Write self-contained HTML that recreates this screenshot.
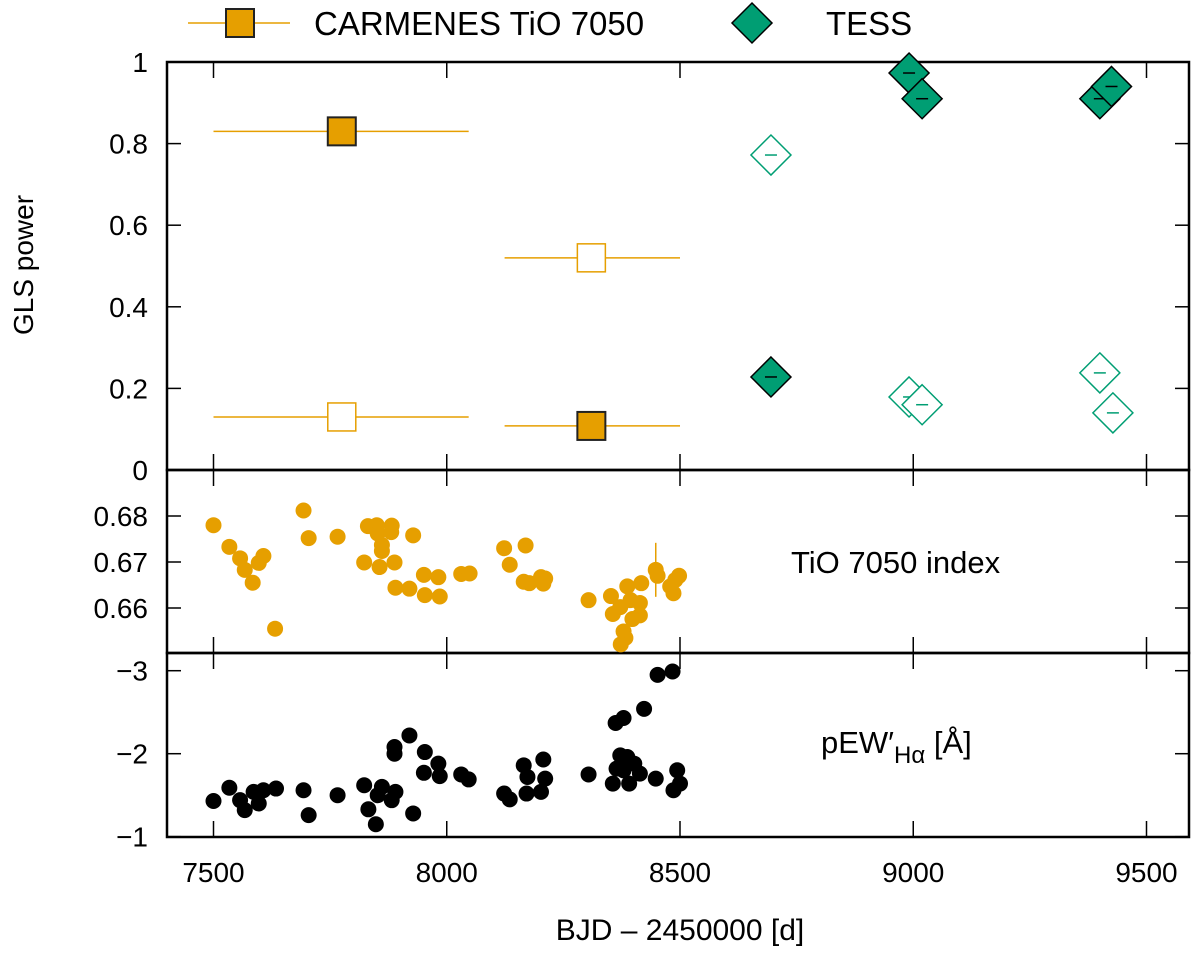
<!DOCTYPE html>
<html><head><meta charset="utf-8"><style>
body{margin:0;background:#fff}
svg text{font-family:"Liberation Sans",sans-serif;fill:#000}
</style></head><body>
<svg id="chart" width="1200" height="954" viewBox="0 0 1200 954" xmlns="http://www.w3.org/2000/svg">
<g id="g"></g>
</svg>
<script>
// Top panel (GLS power) data
const carmFilledX=[7775,8310];
const carmFilledY=[0.83,0.108];
const carmFilledXerrLo=[7500,8124];
const carmFilledXerrHi=[8047,8500];
const carmOpenX=[7775,8310];
const carmOpenY=[0.13,0.52];
const carmOpenXerrLo=[7500,8124];
const carmOpenXerrHi=[8047,8500];
const tessFilledX=[8695,8991,9019,9400,9425];
const tessFilledY=[0.228,0.973,0.91,0.91,0.94];
const tessOpenX=[8695,8991,9019,9400,9428];
const tessOpenY=[0.772,0.179,0.16,0.238,0.14];
// Middle panel TiO index
const tioX=[7500,7534,7557,7567,7584,7597,7607,7632,7693,7704,7766,7831,7850,7882,7852,7881,7861,7861,7823,7856,7888,7928,7890,7920,7951,7982,7953,7985,8031,8049,8123,8169,8135,8165,8177,8202,8211,8207,8304,8352,8356,8387,8372,8394,8414,8414,8417,8398,8379,8383,8373,8448,8452,8498,8490,8479,8486];
const tioY=[0.678,0.6733,0.6708,0.6683,0.6655,0.6698,0.6713,0.6555,0.6812,0.6752,0.6755,0.6778,0.678,0.6779,0.6762,0.6765,0.6737,0.6724,0.6699,0.6689,0.6699,0.6758,0.6644,0.6642,0.6672,0.6667,0.6628,0.6625,0.6674,0.6675,0.673,0.6736,0.6694,0.6657,0.6654,0.6667,0.6664,0.6653,0.6617,0.6626,0.6587,0.6647,0.6602,0.6617,0.6611,0.6584,0.6654,0.6576,0.6549,0.6535,0.6521,0.6683,0.667,0.667,0.6661,0.6647,0.6632];
// Bottom panel pEW Halpha
const haX=[7500,7534,7557,7567,7586,7597,7607,7634,7693,7704,7766,7823,7832,7848,7852,7861,7882,7890,7888,7888,7920,7928,7953,7951,7982,7985,8031,8047,8123,8135,8165,8173,8207,8211,8202,8171,8304,8362,8379,8423,8452,8484,8372,8364,8387,8402,8414,8356,8391,8379,8448,8494,8500,8486];
const haY=[-1.43,-1.59,-1.44,-1.32,-1.54,-1.40,-1.56,-1.58,-1.56,-1.26,-1.50,-1.62,-1.33,-1.15,-1.50,-1.60,-1.44,-1.54,-2.08,-2.00,-2.22,-1.28,-2.02,-1.77,-1.88,-1.73,-1.75,-1.69,-1.52,-1.45,-1.86,-1.72,-1.93,-1.70,-1.54,-1.52,-1.75,-2.37,-2.43,-2.54,-2.95,-2.99,-1.98,-1.82,-1.96,-1.88,-1.76,-1.64,-1.64,-1.80,-1.70,-1.80,-1.64,-1.56];
const xTicks=[7500,8000,8500,9000,9500];
const topTicks=[0,0.2,0.4,0.6,0.8,1];
const topTickLabels=["0","0.2","0.4","0.6","0.8","1"];
const midTicks=[0.66,0.67,0.68];
const midTickLabels=["0.66","0.67","0.68"];
const botTicks=[-3,-2,-1];
const botTickLabels=["\u22123","\u22122","\u22121"];

const GOLD="#E69F00", TEAL="#009E73";
const L=167,R=1189;
const X=d=>213.5+(d-7500)*0.4665;
const Yt=v=>470-v*408;
const Ym=v=>516-(v-0.68)*4600;
const Yb=v=>670.7+(v+3)*83;
const NS="http://www.w3.org/2000/svg";
const g=document.getElementById('g');
function mk(tag,attrs,parent){const e=document.createElementNS(NS,tag);for(const k in attrs)e.setAttribute(k,attrs[k]);(parent||g).appendChild(e);return e;}

// axes boxes
const panels=[[62,470],[470,653],[653,837]];
panels.forEach((p,i)=>{
  const r=mk('rect',{x:L,y:p[0],width:R-L,height:p[1]-p[0],fill:'none',stroke:'#000','stroke-width':2.5});
  
  
  xTicks.forEach(t=>{
    const x=X(t);
    mk('line',{x1:x,x2:x,y1:p[0],y2:p[0]+16,stroke:'#000','stroke-width':1.5});
    mk('line',{x1:x,x2:x,y1:p[1],y2:p[1]-16,stroke:'#000','stroke-width':1.5});
  });
});
function yAxis(ticks,labels,fn,name){
  ticks.forEach((t,i)=>{
    const y=fn(t);
    mk('line',{x1:L,x2:L+14,y1:y,y2:y,stroke:'#000','stroke-width':1.5});
    mk('line',{x1:R,x2:R-14,y1:y,y2:y,stroke:'#000','stroke-width':1.5});
    const tx=mk('text',{x:148,y:y+10,'text-anchor':'end','font-size':28});
    tx.textContent=labels[i];
    
    
  });
}
yAxis(topTicks,topTickLabels,Yt,'gls-y');
yAxis(midTicks,midTickLabels,Ym,'tio-y');
yAxis(botTicks,botTickLabels,Yb,'halpha-y');
xTicks.forEach(t=>{
  const tx=mk('text',{x:X(t),y:882,'text-anchor':'middle','font-size':28});
  tx.textContent=String(t);
  
  
});
let t=mk('text',{x:680,y:940,'text-anchor':'middle','font-size':30});
t.textContent='BJD \u2013 2450000 [d]';


t=mk('text',{x:0,y:0,'text-anchor':'middle','font-size':28,transform:'translate(33,265) rotate(-90)'});
t.textContent='GLS power';


t=mk('text',{x:791,y:573,'font-size':31});
t.textContent='TiO 7050 index';


t=mk('text',{x:821,y:753,'font-size':31});
t.innerHTML='pEW\u2032<tspan font-size="24" dy="10">H\u03B1</tspan><tspan dy="-10"> [\u00C5]</tspan>';



// top panel marks
function sq(x,y,filled,name){
  const s=28;
  const r=mk('rect',{x:x-s/2,y:y-s/2,width:s,height:s,fill:filled?GOLD:'#fff',stroke:filled?'#222':GOLD,'stroke-width':filled?2:1.5});
  
  
}
function dia(x,y,filled,name){
  const h=20;
  const p=mk('polygon',{points:`${x},${y-h} ${x+h},${y} ${x},${y+h} ${x-h},${y}`,fill:filled?TEAL:'#fff',stroke:filled?'#000':TEAL,'stroke-width':1.5});
  
  
  mk('line',{x1:x-6,x2:x+6,y1:y,y2:y,stroke:filled?'#000':TEAL,'stroke-width':1.5});
}
carmOpenX.forEach((d,i)=>{
  mk('line',{x1:X(carmOpenXerrLo[i]),x2:X(carmOpenXerrHi[i]),y1:Yt(carmOpenY[i]),y2:Yt(carmOpenY[i]),stroke:GOLD,'stroke-width':1.5});
  sq(X(d),Yt(carmOpenY[i]),false,'carmenes-open-square');
});
carmFilledX.forEach((d,i)=>{
  mk('line',{x1:X(carmFilledXerrLo[i]),x2:X(carmFilledXerrHi[i]),y1:Yt(carmFilledY[i]),y2:Yt(carmFilledY[i]),stroke:GOLD,'stroke-width':1.5});
  sq(X(d),Yt(carmFilledY[i]),true,'carmenes-filled-square');
});
tessOpenX.forEach((d,i)=>dia(X(d),Yt(tessOpenY[i]),false,'tess-open-diamond'));
tessFilledX.forEach((d,i)=>dia(X(d),Yt(tessFilledY[i]),true,'tess-filled-diamond'));

// middle
mk('line',{x1:X(8448),x2:X(8448),y1:Ym(0.6683)-27,y2:Ym(0.6683)+27,stroke:GOLD,'stroke-width':1.5});
tioX.forEach((d,i)=>{
  const c=mk('circle',{cx:X(d),cy:Ym(tioY[i]),r:8,fill:GOLD});
  
  
});
haX.forEach((d,i)=>{
  const c=mk('circle',{cx:X(d),cy:Yb(haY[i]),r:8,fill:'#000'});
  
  
});

// legend
mk('line',{x1:188,x2:290,y1:23,y2:23,stroke:GOLD,'stroke-width':1.5});
sq(240,23,true,'legend-carmenes-marker');
t=mk('text',{x:314,y:35,'font-size':33});
t.textContent='CARMENES TiO 7050';


dia(752,23,true,'legend-tess-marker');
g.lastChild.remove();
t=mk('text',{x:826,y:35,'font-size':33});
t.textContent='TESS';


</script>
</body></html>
